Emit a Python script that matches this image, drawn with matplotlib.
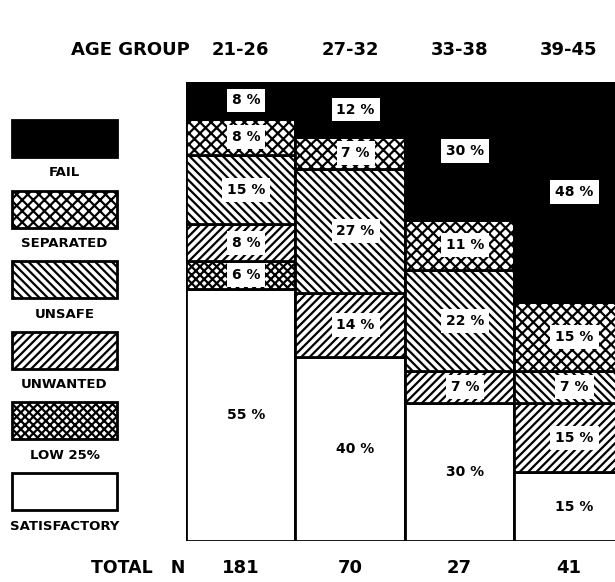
import numpy as np
import matplotlib
matplotlib.use("Agg")
import matplotlib.pyplot as plt
from matplotlib.patches import Rectangle

# ── Datos (porcentajes por grupo de edad) ───────────────────
grupos = ["21-26", "27-32", "33-38", "39-45"]
total_n = [181, 70, 27, 41]

satisfactory = [55, 40, 30, 15]
low25 = [6, 0, 0, 0]
unwanted = [8, 14, 7, 15]
unsafe = [15, 27, 22, 7]
separated = [8, 7, 11, 15]
fail = [8, 12, 30, 48]

# orden de abajo hacia arriba
series = [satisfactory, low25, unwanted, unsafe, separated, fail]
nombres = ["SATISFACTORY", "LOW 25%", "UNWANTED", "UNSAFE", "SEPARATED", "FAIL"]

# ── Estilo ──────────────────────────────────────────────────
estilos = {
    "SATISFACTORY": dict(facecolor="white", hatch=None),
    "LOW 25%":      dict(facecolor="white", hatch="xxxx"),
    "UNWANTED":     dict(facecolor="white", hatch="////"),
    "UNSAFE":       dict(facecolor="white", hatch="\\\\\\\\"),
    "SEPARATED":    dict(facecolor="white", hatch="xxx"),
    "FAIL":         dict(facecolor="black", hatch=None),
}
plt.rcParams["hatch.linewidth"] = 1.6
plt.rcParams["font.family"] = "DejaVu Sans"

fig = plt.figure(figsize=(6.15, 5.82), dpi=100)
ax = fig.add_axes([0.3024, 0.0704, 0.6976, 0.7887])

x = np.arange(len(grupos))
base = np.zeros(len(grupos))
for nombre, vals in zip(nombres, series):
    vals = np.array(vals, dtype=float)
    st = estilos[nombre]
    for i in range(len(grupos)):
        if vals[i] <= 0:
            continue
        ax.bar(x[i], vals[i], bottom=base[i], width=1.0, align="center",
               color=st["facecolor"], hatch=st["hatch"], edgecolor="black",
               linewidth=2.0, zorder=2)
        ax.text(x[i] + 0.05, base[i] + vals[i] / 2, f"{int(vals[i])} %",
                ha="center", va="center", fontsize=10, fontweight="bold",
                color="black", zorder=4,
                bbox=dict(boxstyle="square,pad=0.35", facecolor="white",
                          edgecolor="none"))
    base += vals

ax.set_xlim(-0.5, 3.42)
ax.set_ylim(0, 100)
ax.axis("off")

# encabezado y totales
trans = ax.get_xaxis_transform()
for i, g in enumerate(grupos):
    ax.text(x[i], 1.07, g, transform=trans, ha="center", va="center",
            fontsize=13, fontweight="bold", clip_on=False)
    ax.text(x[i], -0.059, str(total_n[i]), transform=trans, ha="center",
            va="center", fontsize=13, fontweight="bold", clip_on=False)
fig.text(0.309, 1 - 50 / 582, "AGE GROUP", ha="right", va="center",
         fontsize=13, fontweight="bold")
fig.text(0.301, 1 - 568 / 582, "TOTAL   N", ha="right", va="center",
         fontsize=12.5, fontweight="bold")

# leyenda manual a la izquierda (de arriba hacia abajo)
lax = fig.add_axes([0, 0, 1, 1])
lax.set_xlim(0, 615)
lax.set_ylim(582, 0)
lax.axis("off")
for k, nombre in enumerate(reversed(nombres)):
    y0 = 120 + k * 70.6
    st = estilos[nombre]
    lax.add_patch(Rectangle((12, y0), 105, 37, facecolor=st["facecolor"],
                            hatch=st["hatch"], edgecolor="black", linewidth=2.0))
    lax.text(64.5, y0 + 53, nombre, ha="center", va="center",
             fontsize=9.5, fontweight="bold")

fig.savefig("out.png", dpi=100, facecolor="white")
